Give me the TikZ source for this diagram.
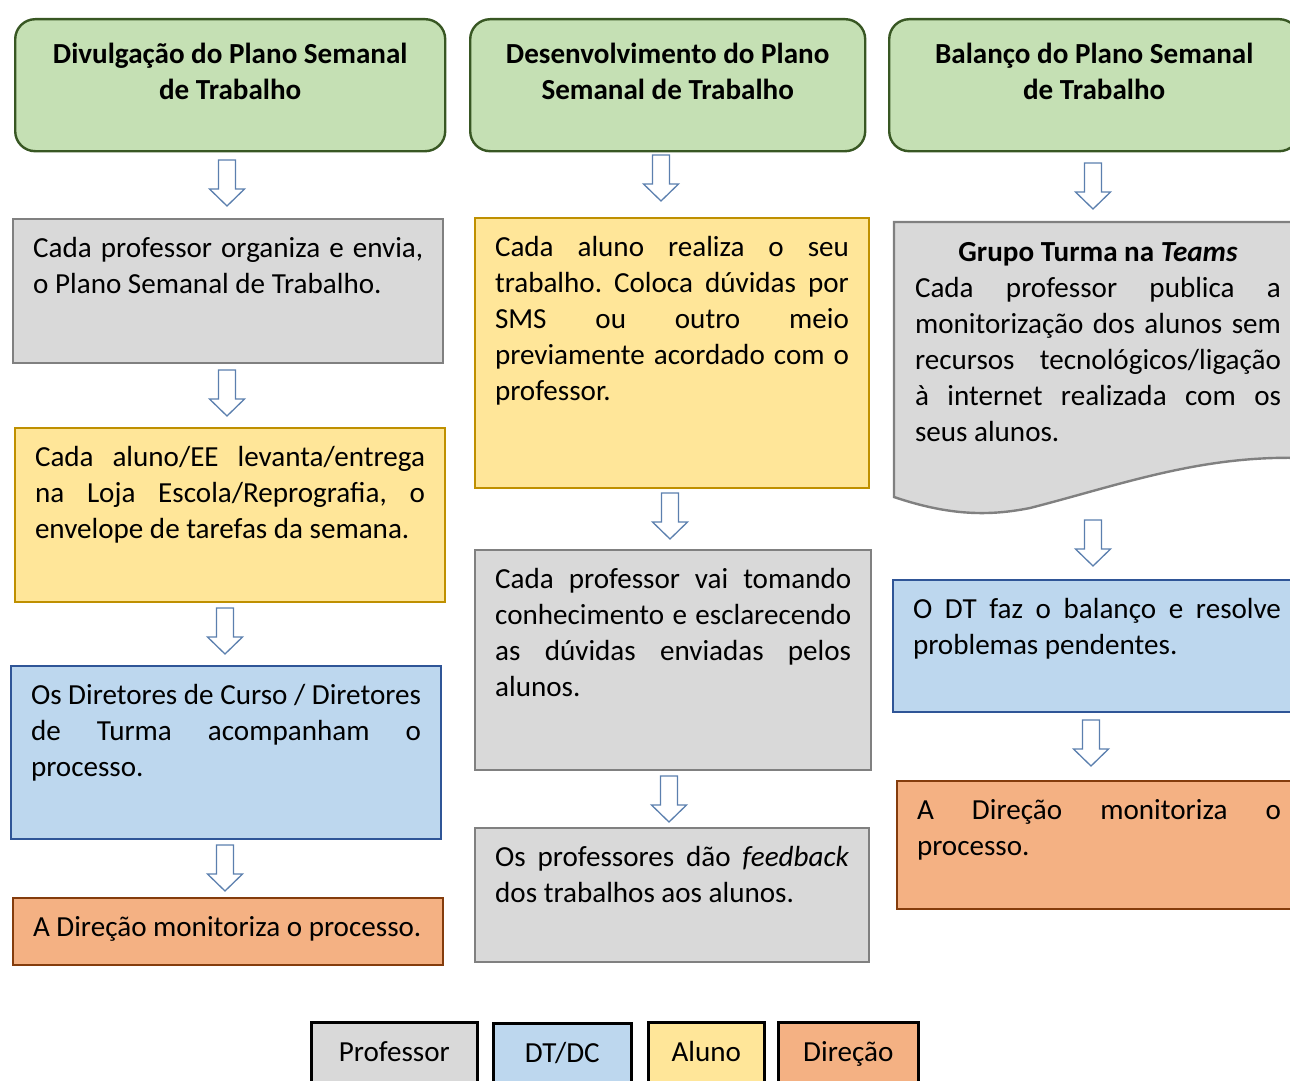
\documentclass[tikz,border=0pt]{standalone}
\usepackage{fontspec}
\setmainfont{Carlito}
\frenchspacing
\definecolor{grayfill}{HTML}{D9D9D9}
\definecolor{graydraw}{HTML}{808080}
\definecolor{yelfill}{HTML}{FFE699}
\definecolor{yeldraw}{HTML}{BF9000}
\definecolor{bluefill}{HTML}{BDD7EE}
\definecolor{bluedraw}{HTML}{2F5597}
\definecolor{orfill}{HTML}{F4B183}
\definecolor{ordraw}{HTML}{843C0C}
\definecolor{grfill}{HTML}{C5E0B4}
\definecolor{grdraw}{HTML}{385723}
\definecolor{arrowblue}{HTML}{5B7FAE}
\newcommand\boxtxt[3]{\parbox[t][\dimexpr #2pt-26pt\relax][t]{\dimexpr #1pt-40pt\relax}{\frenchspacing\hyphenpenalty=10000\exhyphenpenalty=10000\hfuzz=8pt\strut #3}}
\newcommand\hdrtxt[3]{\parbox[t][\dimexpr #2pt-26pt\relax][t]{\dimexpr #1pt-40pt\relax}{\centering\bfseries\rule{0pt}{31pt}#3\par}}
\tikzset{
  base/.style={anchor=north west, rectangle, inner xsep=20pt, inner ysep=13pt, line width=2pt, font=\fontsize{29.1}{36}\selectfont},
  hdr/.style={base, rounded corners=20pt, fill=grfill, draw=grdraw, line width=2.4pt},
  grayb/.style={base, fill=grayfill, draw=graydraw, line width=2.4pt},
  yelb/.style={base, fill=yelfill, draw=yeldraw},
  blueb/.style={base, fill=bluefill, draw=bluedraw},
  orb/.style={base, fill=orfill, draw=ordraw},
  legend/.style={anchor=north west, rectangle, draw=black, line width=2.6pt, minimum height=68pt, text height=20pt, text depth=10pt, font=\fontsize{29.1}{36}\selectfont},
  arrowst/.style={draw=arrowblue, fill=white, line width=1.3pt, line join=miter},
  downarrow/.pic={\draw[arrowst] (-8.5,0) -- (8.5,0) -- (8.5,29) -- (17.5,29) -- (0,46) -- (-17.5,29) -- (-8.5,29) -- cycle;}
}
\begin{document}
\begin{tikzpicture}[x=1pt,y=-1pt]
\useasboundingbox (0,0) rectangle (1290,1081);
\clip (0,0) rectangle (1290,1081);

% Column 1
\node[hdr] (g1) at (14,18) {\hdrtxt{430}{132}{Divulgação do Plano Semanal\\de Trabalho}};
\node[grayb] (a1) at (12,218) {\boxtxt{430}{144}{Cada professor organiza e envia,\linebreak o Plano Semanal de Trabalho.}};
\node[yelb] (a2) at (14,427) {\boxtxt{430}{174}{Cada aluno/EE levanta/entrega\linebreak na Loja Escola/Reprografia, o\linebreak envelope de tarefas da semana.}};
\node[blueb] (a3) at (10,665) {\boxtxt{430}{173}{Os Diretores de Curso / Diretores\linebreak de Turma acompanham o\linebreak processo.}};
\node[orb] (a4) at (12,897) {\boxtxt{430}{67}{A Direção monitoriza o processo.}};

% Column 2
\node[hdr] (g2) at (469,18) {\hdrtxt{395}{132}{Desenvolvimento do Plano\\Semanal de Trabalho}};
\node[yelb] (b1) at (474,217) {\boxtxt{394}{270}{Cada aluno realiza o seu\linebreak trabalho. Coloca dúvidas por\linebreak SMS ou outro meio\linebreak previamente acordado com o\linebreak professor.}};
\node[grayb] (b2) at (474,549) {\boxtxt{396}{220}{Cada professor vai tomando\linebreak conhecimento e esclarecendo\linebreak as dúvidas enviadas pelos\linebreak alunos.}};
\node[grayb] (b3) at (474,827) {\boxtxt{394}{134}{Os professores dão \textit{feedback}\linebreak dos trabalhos aos alunos.}};

% Column 3
\node[hdr] (g3) at (888,18) {\hdrtxt{410}{132}{Balanço do Plano Semanal\\de Trabalho}};
\draw[fill=grayfill, draw=graydraw, line width=2.4pt]
  (894,222) -- (1302,222) -- (1302,458)
  .. controls (1200,455) and (1120,485) .. (1030,508)
  .. controls (990,516) and (950,516) .. (894,497) -- cycle;
\node[base] (c1) at (894,222) {\boxtxt{406}{270}{\makebox[\linewidth]{\bfseries Grupo Turma na \textit{Teams}}\par Cada professor publica a\linebreak monitorização dos alunos sem\linebreak recursos tecnológicos/ligação\linebreak à internet realizada com os\linebreak seus alunos.}};
\node[blueb] (c2) at (892,579) {\boxtxt{408}{132}{O DT faz o balanço e resolve\linebreak problemas pendentes.}};
\node[orb] (c3) at (896,780) {\boxtxt{404}{128}{A Direção monitoriza o\linebreak processo.}};

% Arrows
\pic at (227,160) {downarrow};
\pic at (227,370) {downarrow};
\pic at (225,608) {downarrow};
\pic at (225,845) {downarrow};
\pic at (661,155) {downarrow};
\pic at (670,493) {downarrow};
\pic at (669,776) {downarrow};
\pic at (1093,163) {downarrow};
\pic at (1093,520) {downarrow};
\pic at (1091,720) {downarrow};

% Legend
\node[legend, fill=grayfill, minimum width=166pt] (lp) at (310,1021) {Professor};
\node[legend, fill=bluefill, minimum width=138pt] (ld) at (492,1022) {DT/DC};
\node[legend, fill=yelfill, minimum width=116pt] (la) at (647,1021) {Aluno};
\node[legend, fill=orfill, minimum width=140pt] (lr) at (777,1021) {Direção};
\end{tikzpicture}
\end{document}
